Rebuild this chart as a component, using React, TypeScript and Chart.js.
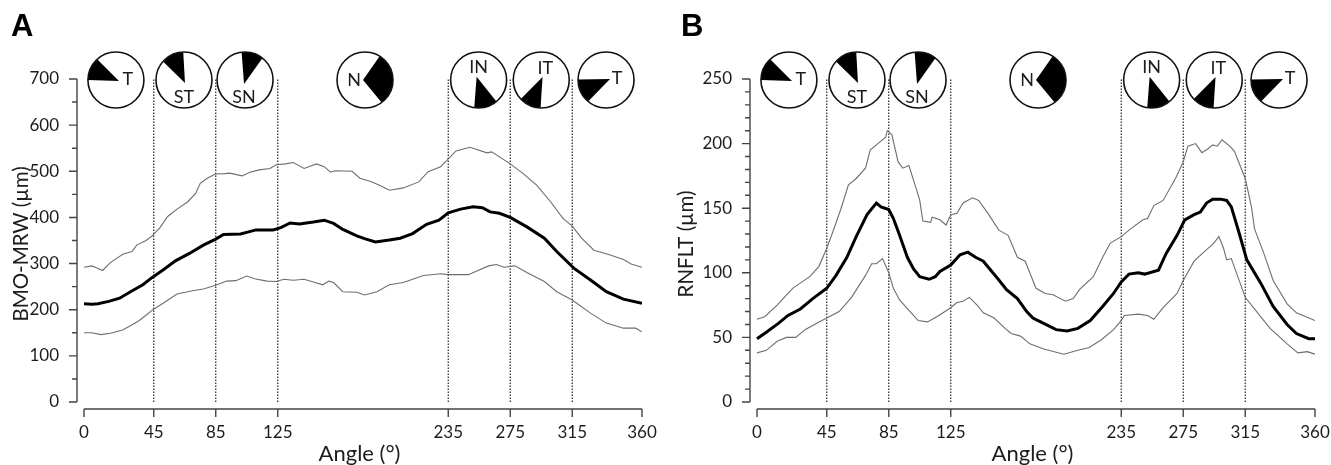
import React, { useEffect, useRef } from "react";
import { Chart, registerables } from "chart.js";

Chart.register(...registerables);

const xTicks = [0, 45, 85, 125, 235, 275, 315, 360];
const sectorBounds = [45, 85, 125, 235, 275, 315];

// Panel A: BMO-MRW
const aUpperAngles = [0, 5, 8, 12, 17, 25, 31, 34, 40, 44, 49, 54, 60, 67, 72, 75, 80, 85, 91, 94, 102, 107, 113, 120, 124, 130, 135, 142, 150, 155, 159, 162, 173, 178, 185, 191, 197, 206, 216, 222, 230, 234, 240, 249, 260, 263, 275, 283, 292, 301, 309, 315, 321, 329, 339, 348, 353, 360];
const aUpper = [292, 295, 291, 285, 302, 320, 326, 340, 350, 360, 378, 402, 418, 434, 452, 474, 486, 494, 495, 496, 490, 498, 503, 506, 514, 516, 519, 506, 516, 510, 498, 501, 500, 485, 478, 469, 459, 464, 477, 499, 510, 523, 544, 552, 540, 542, 516, 496, 470, 434, 398, 381, 355, 329, 319, 309, 299, 292];
const aMeanAngles = [0, 5, 9, 16, 23, 30, 38, 44, 51, 59, 68, 77, 85, 90, 101, 111, 122, 127, 133, 139, 148, 155, 161, 167, 176, 181, 188, 197, 204, 212, 221, 229, 235, 243, 251, 257, 262, 268, 275, 286, 297, 305, 316, 327, 337, 348, 360];
const aMean = [213, 212, 213, 218, 225, 239, 254, 270, 286, 306, 322, 340, 353, 363, 364, 373, 373, 378, 388, 386, 390, 394, 387, 374, 360, 354, 347, 351, 355, 365, 385, 394, 410, 418, 423, 421, 412, 409, 400, 379, 355, 326, 290, 264, 239, 223, 214];
const aLowerAngles = [0, 5, 11, 17, 25, 35, 40, 44, 51, 60, 70, 77, 85, 92, 98, 105, 110, 118, 124, 129, 135, 142, 148, 154, 158, 161, 167, 176, 181, 189, 197, 206, 219, 230, 235, 248, 261, 266, 271, 278, 286, 297, 305, 315, 327, 337, 348, 356, 360];
const aLower = [150, 150, 146, 149, 156, 175, 188, 199, 214, 234, 241, 245, 253, 262, 263, 273, 267, 262, 261, 266, 264, 266, 260, 254, 262, 259, 239, 238, 232, 239, 254, 259, 274, 278, 276, 276, 295, 298, 292, 295, 280, 261, 239, 221, 192, 171, 160, 160, 152];

// Panel B: RNFLT
const bUpperAngles = [0, 5, 13, 23, 34, 40, 45, 49, 54, 59, 64, 70, 73, 78, 83, 84, 87, 91, 94, 98, 103, 105, 107, 112, 113, 118, 122, 125, 129, 133, 139, 143, 149, 156, 162, 168, 173, 176, 180, 186, 191, 199, 204, 208, 217, 223, 228, 235, 241, 249, 252, 256, 262, 270, 275, 278, 283, 287, 291, 294, 297, 300, 305, 308, 315, 319, 321, 327, 333, 342, 348, 360];
const bUpper = [64, 66, 75, 88, 97, 105, 119, 132, 149, 168, 173, 181, 195, 200, 205, 210, 207, 186, 181, 183, 164, 156, 140, 139, 143, 141, 137, 145, 146, 154, 158, 156, 146, 133, 129, 112, 109, 100, 88, 84, 83, 78, 80, 87, 97, 112, 123, 128, 134, 141, 142, 152, 156, 173, 186, 198, 200, 193, 196, 199, 198, 203, 198, 194, 173, 151, 134, 115, 94, 76, 69, 63];
const bMeanAngles = [0, 6, 14, 20, 28, 36, 45, 51, 58, 64, 71, 77, 80, 85, 88, 92, 97, 101, 105, 111, 115, 118, 125, 131, 136, 141, 146, 155, 161, 168, 174, 178, 183, 193, 200, 207, 215, 223, 230, 235, 240, 246, 250, 259, 264, 271, 276, 282, 286, 290, 294, 299, 303, 306, 311, 316, 325, 333, 342, 348, 356, 360];
const bMean = [49, 54, 61, 67, 72, 80, 88, 98, 112, 128, 145, 154, 151, 149, 142, 129, 112, 103, 97, 95, 97, 101, 106, 114, 116, 112, 109, 96, 87, 80, 70, 65, 62, 56, 55, 57, 63, 74, 84, 93, 99, 100, 99, 102, 115, 129, 141, 145, 147, 154, 157, 157, 156, 151, 131, 110, 92, 74, 60, 53, 49, 49];
const bLowerAngles = [0, 6, 13, 19, 25, 31, 40, 45, 53, 61, 70, 74, 77, 81, 85, 88, 92, 98, 104, 110, 116, 125, 129, 133, 137, 142, 146, 153, 160, 164, 170, 176, 185, 198, 207, 214, 222, 230, 235, 237, 246, 252, 256, 262, 271, 275, 282, 290, 294, 298, 301, 303, 306, 315, 323, 331, 342, 349, 355, 360];
const bLower = [38, 40, 47, 50, 50, 56, 62, 65, 70, 81, 98, 107, 107, 111, 100, 88, 79, 71, 63, 62, 66, 73, 77, 78, 81, 75, 69, 65, 57, 53, 51, 45, 41, 37, 40, 42, 48, 56, 63, 67, 68, 67, 64, 73, 84, 94, 109, 118, 122, 128, 119, 110, 111, 81, 69, 57, 45, 38, 39, 37];

// Sector icons: angle on the x scale where each sits, and its text
const iconNames = ["T", "ST", "SN", "N", "IN", "IT", "T"];
const iconAngles = [20.6, 64.5, 103.9, 181.3, 254.6, 295, 336.8];
const iconArcs = [[180, 228], [221.5, 268.5], [263, 308.6], [301.5, 413.6], [50.5, 99], [91.4, 137], [130, 181]];
const iconApex = [[3, 1], [1, 3], [-1, 4], [-2, 0], [-2, -3.3], [1.3, -3], [4, -1]];
const iconText = [[12, -1], [0, 17], [-1, 17.5], [-11, 0], [0, -13], [4, -12], [11, -1.5]];

const toPts = (xs: number[], ys: number[]) => xs.map((x, i) => ({ x, y: ys[i] }));
const GREY = "#6e6e6e";
const AXIS = "#444444";
const TEXT = "#1c1c1c";
const FONT = "Lato";

function makeConfig(p: {
  letter: string; letterX: number; yMax: number; yTitle: string; yStep: number; yMinor: number;
  left: number; right: number;
  upper: any[]; mean: any[]; lower: any[];
}) {
  const overlay = {
    id: "overlay",
    afterDraw(chart: any) {
      const { ctx, scales, chartArea } = chart;
      const xs = scales.x, ys = scales.y;
      ctx.save();
      ctx.strokeStyle = AXIS;
      ctx.lineWidth = 1.4;
      ctx.beginPath();
      ctx.moveTo(chartArea.left, ys.getPixelForValue(0));
      ctx.lineTo(chartArea.left, ys.getPixelForValue(p.yMax));
      for (let v = 0; v <= p.yMax; v += p.yMinor) {
        const major = v % p.yStep === 0;
        const py = ys.getPixelForValue(v);
        ctx.moveTo(chartArea.left - (major ? 8 : 5), py);
        ctx.lineTo(chartArea.left, py);
      }
      ctx.moveTo(xs.getPixelForValue(0), chartArea.bottom);
      ctx.lineTo(xs.getPixelForValue(360), chartArea.bottom);
      xTicks.forEach((t) => {
        const px = xs.getPixelForValue(t);
        ctx.moveTo(px, chartArea.bottom);
        ctx.lineTo(px, chartArea.bottom + 8);
      });
      ctx.stroke();

      const cy = ys.getPixelForValue(p.yMax) + 1;
      iconNames.forEach((name, i) => {
        const cx = xs.getPixelForValue(iconAngles[i]);
        const r = 28;
        const [a0, a1] = iconArcs[i].map((d) => (d * Math.PI) / 180);
        ctx.fillStyle = "#000";
        ctx.beginPath();
        ctx.moveTo(cx + iconApex[i][0], cy + iconApex[i][1]);
        ctx.arc(cx, cy, r, a0, a1);
        ctx.closePath();
        ctx.fill();
        ctx.strokeStyle = "#111";
        ctx.lineWidth = 1.6;
        ctx.beginPath();
        ctx.arc(cx, cy, r, 0, Math.PI * 2);
        ctx.stroke();
        ctx.fillStyle = TEXT;
        ctx.font = `18px ${FONT}`;
        ctx.textAlign = "center";
        ctx.textBaseline = "middle";
        ctx.fillText(name, cx + iconText[i][0], cy + iconText[i][1]);
      });

      ctx.fillStyle = "#000";
      ctx.font = "bold 31px 'Liberation Sans'";
      ctx.textAlign = "left";
      ctx.textBaseline = "alphabetic";
      ctx.fillText(p.letter, p.letterX, 36);
      ctx.restore();
    },
  };
  const bounds = sectorBounds.map((a) => ({
    data: [{ x: a, y: 0 }, { x: a, y: p.yMax }],
    borderColor: "#222222",
    borderWidth: 1.2,
    borderDash: [1.4, 1.6],
    pointRadius: 0,
  }));
  return {
    type: "line" as const,
    data: {
      datasets: [
        { data: p.mean, borderColor: "#000000", borderWidth: 3, pointRadius: 0, tension: 0 },
        { data: p.upper, borderColor: GREY, borderWidth: 1.1, pointRadius: 0, tension: 0 },
        { data: p.lower, borderColor: GREY, borderWidth: 1.1, pointRadius: 0, tension: 0 },
        ...bounds,
      ],
    },
    options: {
      responsive: false,
      animation: false as const,
      layout: { padding: { top: 79, right: p.right, bottom: 0, left: 0 } },
      plugins: { legend: { display: false }, tooltip: { enabled: false }, title: { display: false } },
      scales: {
        x: {
          type: "linear" as const,
          min: -7 / 1.55,
          max: 360,
          grid: { display: false },
          border: { display: false },
          afterBuildTicks: (s: any) => { s.ticks = xTicks.map((value) => ({ value })); },
          afterFit: (s: any) => { s.height = 56; s.paddingLeft = 0; s.paddingRight = 0; },
          ticks: {
            autoSkip: false, maxRotation: 0, padding: 5, color: TEXT,
            font: { family: FONT, size: 17 },
            callback: (v: any) => String(v),
          },
          title: {
            display: true, text: "Angle (°)", color: TEXT,
            font: { family: FONT, size: 22 },
            padding: { top: 0, bottom: -2 },
          },
        },
        y: {
          type: "linear" as const,
          min: (-7 * p.yMax) / 323,
          max: p.yMax,
          grid: { display: false },
          border: { display: false },
          afterBuildTicks: (s: any) => {
            const list = [];
            for (let v = 0; v <= p.yMax; v += p.yStep) list.push({ value: v });
            s.ticks = list;
          },
          afterFit: (s: any) => { s.width = p.left; s.paddingTop = 0; s.paddingBottom = 0; },
          ticks: {
            autoSkip: false, padding: 10, color: TEXT,
            font: { family: FONT, size: 17 },
            callback: (v: any) => String(v),
          },
          title: {
            display: true, text: p.yTitle, color: TEXT,
            font: { family: FONT, size: 20.5 },
            padding: { top: 9, bottom: 0 },
          },
        },
      },
    },
    plugins: [overlay],
  };
}

export default function App() {
  const aRef = useRef<HTMLCanvasElement>(null);
  const bRef = useRef<HTMLCanvasElement>(null);
  useEffect(() => {
    const a = new Chart(aRef.current as any, makeConfig({
      letter: "A", letterX: 11, yMax: 700, yTitle: "BMO-MRW (µm)", yStep: 100, yMinor: 50,
      left: 77, right: 23,
      upper: toPts(aUpperAngles, aUpper), mean: toPts(aMeanAngles, aMean), lower: toPts(aLowerAngles, aLower),
    }) as any);
    const b = new Chart(bRef.current as any, makeConfig({
      letter: "B", letterX: 16, yMax: 250, yTitle: "RNFLT (µm)", yStep: 50, yMinor: 10,
      left: 85, right: 16,
      upper: toPts(bUpperAngles, bUpper), mean: toPts(bMeanAngles, bMean), lower: toPts(bLowerAngles, bLower),
    }) as any);
    return () => { a.destroy(); b.destroy(); };
  }, []);
  return (
    <div style={{ position: "fixed", left: 0, top: 0, width: 1331, height: 465, background: "#fff" }}>
      <canvas ref={aRef} width={665} height={465} style={{ position: "absolute", left: 0, top: 0 }} />
      <canvas ref={bRef} width={666} height={465} style={{ position: "absolute", left: 665, top: 0 }} />
    </div>
  );
}
